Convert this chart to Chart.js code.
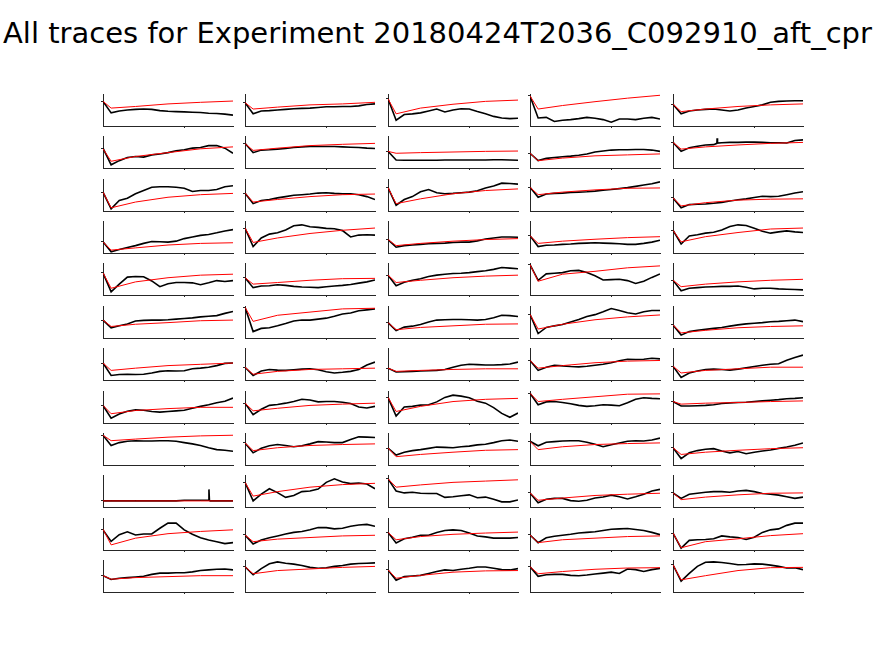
<!DOCTYPE html>
<html>
<head>
<meta charset="UTF-8">
<title>All traces</title>
<script src="https://cdn.jsdelivr.net/npm/chart.js"></script>
<style>
    body { margin: 0; background: #fff; width: 875px; height: 656px; position: relative; overflow: hidden; }
    #title {
        position: absolute; left: -20px; width: 915px; top: 19px;
        text-align: center; font-family: 'DejaVu Sans', sans-serif; font-size: 29px; line-height: 29px; color: #000;
        white-space: nowrap;
    }
    .cell { position: absolute; }
</style>
</head>
<body>
<div id="title">All traces for Experiment 20180424T2036_C092910_aft_cpr</div>
<div id="grid"></div>

<script>
// x positions of the sampled black trace values (axis runs 0..160, one tick at 100)
const xs = [0, 10, 20, 30, 40, 50, 60, 70, 80, 90, 100, 110, 120, 130, 140, 150, 160];
// x positions of the red fitted curve values
const redXs = [0, 10, 40, 80, 120, 160];

// values in % of each panel's y range, row by row, 5 panels per row
const blackTraces = [
    [77, 41, 47, 50, 52, 53, 52, 48, 46, 45, 44, 43, 42, 40, 39, 37, 34],
    [73, 38, 47, 48, 50, 52, 54, 55, 56, 58, 60, 60, 61, 61, 63, 67, 69],
    [85, 18, 36, 38, 41, 47, 53, 44, 50, 54, 53, 45, 38, 30, 25, 23, 24],
    [94, 25, 27, 14, 18, 20, 23, 27, 24, 20, 12, 22, 22, 20, 24, 27, 22],
    [68, 38, 47, 50, 52, 53, 50, 47, 50, 56, 61, 66, 74, 77, 78, 79, 79],

    [62, 10, 23, 33, 36, 34, 41, 44, 48, 54, 57, 62, 64, 70, 70, 62, 46],
    [77, 48, 56, 57, 59, 61, 64, 66, 67, 67, 67, 67, 66, 65, 64, 62, 61],
    [52, 25, 24, 24, 24, 24, 24, 25, 25, 25, 25, 25, 25, 26, 26, 25, 24],
    [46, 23, 30, 33, 35, 37, 40, 44, 50, 53, 56, 57, 57, 58, 58, 56, 52],
    [80, 52, 63, 68, 72, 73, 79, 80, 80, 81, 81, 80, 79, 79, 78, 86, 88],

    [59, 7, 33, 40, 54, 64, 74, 76, 76, 74, 71, 61, 64, 64, 67, 76, 79],
    [56, 23, 33, 36, 41, 45, 49, 51, 53, 56, 57, 55, 54, 54, 51, 45, 36],
    [73, 18, 36, 45, 60, 67, 57, 54, 55, 57, 59, 63, 72, 78, 87, 86, 84],
    [74, 43, 53, 55, 56, 58, 59, 60, 62, 65, 67, 70, 73, 77, 81, 85, 91],
    [41, 10, 20, 21, 22, 24, 27, 31, 35, 38, 42, 46, 45, 46, 51, 56, 60],

    [35, 4, 11, 17, 23, 30, 36, 35, 34, 37, 45, 50, 55, 58, 63, 69, 73],
    [78, 20, 47, 59, 63, 72, 85, 88, 82, 80, 77, 76, 70, 50, 56, 57, 56],
    [42, 18, 23, 25, 27, 29, 30, 31, 33, 34, 34, 38, 44, 47, 50, 50, 49],
    [54, 20, 24, 25, 27, 28, 30, 31, 32, 31, 30, 29, 27, 27, 30, 34, 40],
    [71, 28, 53, 57, 62, 65, 72, 83, 88, 86, 77, 68, 62, 66, 69, 66, 64],

    [69, 10, 34, 56, 58, 57, 44, 26, 35, 39, 39, 38, 32, 38, 45, 42, 45],
    [54, 23, 28, 29, 32, 30, 27, 25, 24, 23, 26, 28, 30, 33, 37, 41, 47],
    [62, 29, 40, 46, 51, 58, 62, 65, 67, 68, 70, 73, 76, 80, 86, 84, 82],
    [95, 46, 66, 68, 70, 76, 77, 70, 60, 47, 48, 49, 45, 36, 43, 55, 66],
    [46, 13, 21, 23, 25, 26, 27, 27, 28, 24, 19, 21, 21, 19, 18, 17, 16],

    [56, 32, 38, 44, 53, 55, 56, 56, 57, 59, 61, 63, 66, 68, 70, 77, 83],
    [96, 20, 30, 32, 38, 45, 53, 56, 56, 59, 62, 68, 75, 78, 85, 88, 91],
    [48, 23, 34, 37, 42, 50, 56, 57, 58, 58, 57, 56, 58, 63, 71, 70, 67],
    [74, 14, 33, 38, 42, 50, 58, 67, 73, 82, 92, 86, 79, 75, 82, 86, 86],
    [41, 9, 20, 24, 27, 30, 33, 37, 41, 44, 46, 48, 51, 52, 54, 56, 51],

    [53, 14, 17, 18, 17, 18, 22, 27, 29, 28, 29, 35, 37, 40, 45, 52, 53],
    [40, 14, 28, 33, 31, 30, 32, 34, 35, 32, 26, 22, 24, 27, 33, 47, 56],
    [37, 25, 26, 27, 28, 29, 30, 33, 40, 46, 49, 48, 47, 47, 48, 50, 56],
    [61, 30, 40, 46, 44, 42, 41, 43, 46, 49, 54, 60, 65, 64, 65, 68, 66],
    [43, 8, 22, 28, 33, 34, 33, 31, 34, 38, 42, 46, 49, 51, 62, 70, 78],

    [55, 15, 28, 37, 41, 40, 36, 34, 36, 38, 40, 46, 52, 57, 63, 68, 78],
    [62, 26, 43, 55, 58, 62, 67, 74, 72, 66, 67, 67, 65, 61, 50, 47, 52],
    [80, 22, 50, 52, 56, 57, 66, 80, 87, 84, 79, 68, 62, 48, 30, 18, 31],
    [93, 57, 66, 67, 64, 60, 55, 52, 54, 57, 56, 54, 63, 74, 79, 77, 76],
    [67, 53, 53, 54, 55, 57, 61, 63, 64, 65, 67, 69, 71, 73, 76, 77, 79],

    [93, 61, 70, 74, 76, 75, 75, 76, 76, 74, 70, 66, 61, 54, 48, 46, 43],
    [69, 38, 52, 60, 64, 61, 57, 60, 66, 73, 72, 70, 70, 80, 88, 87, 86],
    [53, 31, 40, 45, 48, 52, 56, 55, 54, 57, 59, 63, 65, 70, 76, 78, 74],
    [74, 60, 71, 73, 75, 76, 76, 71, 65, 57, 63, 69, 74, 76, 75, 78, 84],
    [54, 20, 38, 45, 49, 51, 44, 38, 42, 35, 40, 44, 47, 52, 56, 62, 69],

    [19, 19, 19, 19, 19, 19, 19, 19, 19, 19, 21, 21, 21, 21, 19, 19, 19],
    [77, 19, 40, 57, 45, 30, 36, 48, 50, 56, 77, 88, 78, 73, 75, 72, 57],
    [88, 50, 44, 46, 43, 42, 42, 30, 32, 35, 38, 29, 31, 24, 16, 16, 22],
    [44, 13, 24, 27, 27, 20, 18, 21, 28, 31, 37, 32, 25, 32, 40, 50, 55],
    [44, 27, 40, 43, 46, 48, 48, 46, 50, 52, 48, 42, 40, 37, 32, 27, 31],

    [63, 27, 48, 57, 47, 50, 50, 68, 84, 84, 63, 49, 38, 31, 26, 20, 23],
    [47, 19, 31, 38, 44, 50, 55, 58, 63, 70, 70, 66, 68, 74, 78, 80, 74],
    [55, 22, 35, 40, 46, 46, 55, 61, 63, 61, 53, 44, 41, 37, 37, 37, 39],
    [47, 23, 38, 43, 46, 49, 53, 55, 57, 61, 65, 66, 67, 64, 61, 55, 48],
    [53, 6, 30, 32, 33, 35, 44, 41, 39, 33, 40, 55, 63, 66, 77, 84, 84],

    [51, 39, 43, 45, 47, 49, 55, 59, 59, 60, 60, 63, 67, 69, 71, 72, 69],
    [79, 54, 73, 88, 94, 90, 87, 83, 77, 74, 76, 80, 83, 87, 89, 90, 91],
    [69, 37, 48, 50, 52, 58, 64, 69, 67, 71, 74, 78, 78, 74, 70, 69, 73],
    [79, 49, 54, 55, 55, 52, 51, 53, 56, 59, 62, 58, 72, 70, 64, 70, 74],
    [85, 34, 58, 80, 93, 94, 92, 89, 85, 86, 88, 87, 84, 80, 75, 76, 70]
];

const redTraces = [
    [77, 56, 61, 69, 74, 78], [73, 53, 59, 66, 69, 74], [85, 38, 56, 68, 77, 81], [94, 53, 64, 76, 87, 96], [68, 45, 53, 61, 66, 69],
    [60, 21, 36, 48, 60, 66], [76, 55, 62, 70, 74, 77], [52, 46, 48, 50, 52, 53], [46, 23, 31, 38, 41, 44], [80, 59, 66, 72, 77, 80],
    [59, 10, 28, 43, 51, 55], [56, 28, 36, 45, 51, 53], [73, 23, 38, 54, 64, 69], [74, 51, 59, 66, 71, 72], [41, 16, 26, 34, 37, 38],
    [35, 9, 16, 25, 30, 32], [78, 33, 47, 61, 71, 78], [42, 23, 30, 37, 42, 45], [54, 30, 37, 43, 48, 51], [71, 35, 51, 64, 75, 78],
    [69, 21, 41, 54, 62, 65], [54, 34, 39, 46, 51, 52], [62, 39, 46, 54, 59, 62], [95, 43, 65, 74, 85, 91], [46, 26, 34, 41, 46, 49],
    [56, 36, 43, 48, 54, 56], [96, 52, 71, 81, 91, 93], [48, 26, 33, 38, 43, 44], [74, 28, 43, 57, 66, 72], [41, 16, 24, 32, 36, 38],
    [53, 30, 37, 45, 49, 53], [40, 18, 27, 33, 35, 37], [37, 27, 30, 33, 35, 35], [61, 37, 45, 54, 59, 61], [43, 22, 30, 35, 40, 40],
    [55, 29, 39, 45, 49, 49], [62, 38, 46, 55, 59, 62], [80, 36, 52, 67, 74, 77], [93, 67, 74, 82, 90, 91], [67, 59, 62, 64, 67, 69],
    [93, 76, 81, 87, 91, 93], [69, 45, 54, 61, 64, 66], [53, 26, 33, 40, 46, 48], [74, 48, 57, 64, 67, 69], [54, 33, 40, 46, 51, 54],
    [19, 19, 19, 19, 19, 19], [77, 34, 48, 62, 70, 74], [88, 62, 69, 77, 81, 85], [44, 21, 28, 36, 40, 43], [44, 23, 31, 38, 43, 44],
    [65, 16, 37, 51, 58, 63], [47, 26, 34, 39, 44, 46], [55, 32, 42, 49, 53, 56], [47, 23, 32, 37, 42, 44], [53, 7, 26, 35, 45, 51],
    [51, 40, 45, 48, 51, 51], [79, 57, 67, 72, 77, 80], [69, 43, 52, 62, 66, 67], [79, 57, 64, 71, 75, 76], [85, 38, 51, 67, 76, 77]
];

// narrow spikes in two traces: [panel, x, y]
const spikes = [
    [9, 54.0, 77], [9, 54.3, 93], [9, 54.8, 78],
    [45, 130.4, 55], [45, 131.0, 21], [45, 132.0, 19]
];

const colLeft = [103, 245, 388, 530, 673];
const plotW = 130, plotH = 32;
const padL = 4, padB = 4, padT = 2, padR = 2;

const grid = document.getElementById('grid');

blackTraces.forEach((trace, i) => {
    const r = Math.floor(i / 5), c = i % 5;
    const top = Math.round(94 + 42.36 * r);

    const cell = document.createElement('div');
    cell.className = 'cell';
    cell.style.left = (colLeft[c] - padL) + 'px';
    cell.style.top = (top - padT) + 'px';
    const cv = document.createElement('canvas');
    cv.width = plotW + padL + padR;
    cv.height = plotH + padT + padB;
    cell.appendChild(cv);
    grid.appendChild(cell);

    let pts = trace.map((v, k) => ({ x: xs[k], y: v }));
    spikes.filter(s => s[0] === i).forEach(s => pts.push({ x: s[1], y: s[2] }));
    pts.sort((a, b) => a.x - b.x);
    const redPts = redTraces[i].map((v, k) => ({ x: redXs[k], y: v }));
    const start = trace[0];

    new Chart(cv, {
        type: 'line',
        data: {
            datasets: [
                { data: redPts, borderColor: '#ff0000', borderWidth: 1, pointRadius: 0, order: 0 },
                { data: pts, borderColor: '#000000', borderWidth: 1.6, pointRadius: 0, order: 1 }
            ]
        },
        options: {
            responsive: false,
            animation: false,
            devicePixelRatio: 1,
            layout: { padding: { top: padT, right: padR } },
            plugins: { legend: { display: false }, tooltip: { enabled: false } },
            scales: {
                x: {
                    type: 'linear', min: 0, max: 160,
                    afterBuildTicks: s => { s.ticks = [{ value: 100 }]; },
                    afterFit: s => { s.height = padB; },
                    ticks: { display: false },
                    grid: { drawOnChartArea: false, tickLength: 2, color: '#262626' },
                    border: { color: '#262626', width: 1 }
                },
                y: {
                    min: 0, max: 100,
                    afterBuildTicks: s => { s.ticks = [{ value: start }]; },
                    afterFit: s => { s.width = padL; },
                    ticks: { display: false },
                    grid: { drawOnChartArea: false, tickLength: 2, color: '#262626' },
                    border: { color: '#262626', width: 1 }
                }
            }
        }
    });
});
</script>
</body>
</html>
